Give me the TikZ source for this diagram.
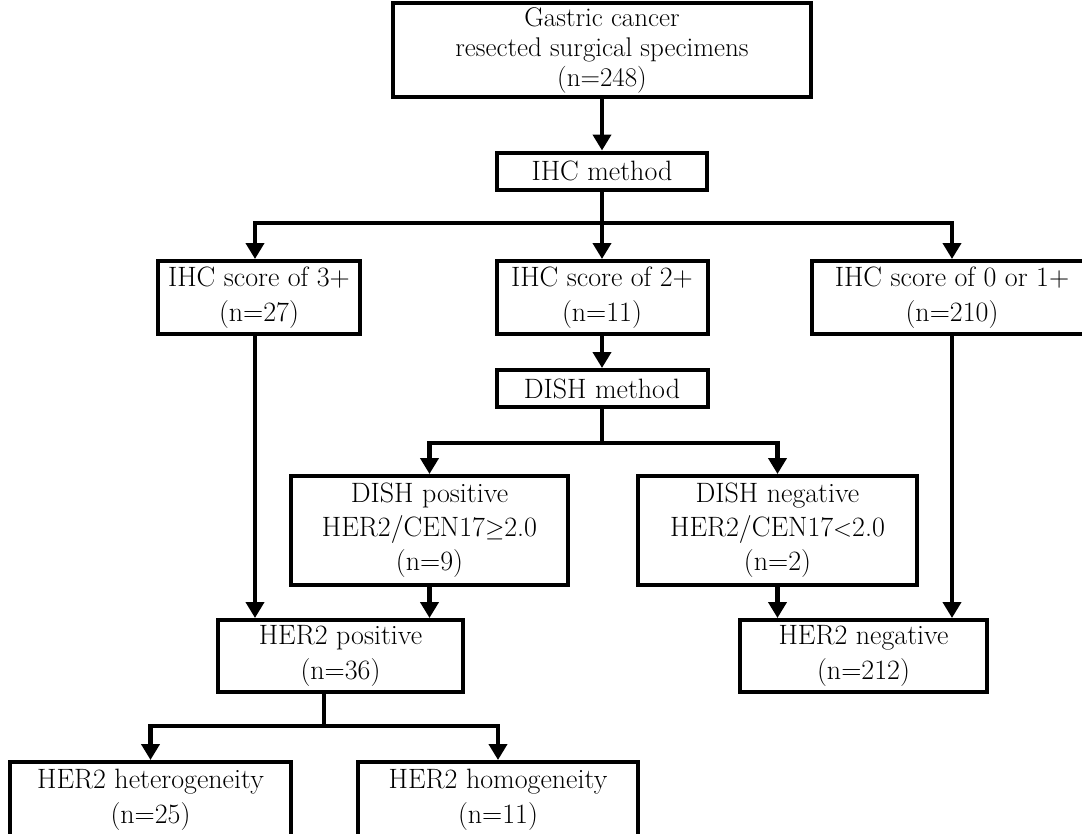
\documentclass[tikz,border=0pt]{standalone}
\usetikzlibrary{arrows.meta}
\begin{document}
\begin{tikzpicture}[x=1pt,y=-1pt,
  box/.style={draw,line width=4pt,inner sep=0pt,align=center,font=\fontsize{28}{35}\selectfont},
  conn/.style={line width=4.5pt,line join=miter},
  arr/.style={conn,-{Triangle[width=18pt,length=16pt]}}]
\useasboundingbox (0,0) rectangle (1082,833);
\clip (0,0) rectangle (1082,833);
% boxes
\node[box,minimum width=418pt,minimum height=94pt,font=\fontsize{27}{30}\selectfont] (top) at (602,50) {Gastric cancer\\resected surgical specimens\\(n=248)};
\node[box,minimum width=210pt,minimum height=37pt] (ihc) at (602,171) {IHC method};
\node[box,minimum width=202pt,minimum height=73pt] (s3) at (259,297.5) {IHC score of 3+\\(n=27)};
\node[box,minimum width=211pt,minimum height=73pt] (s2) at (602,297.5) {IHC score of 2+\\(n=11)};
\node[box,minimum width=280pt,minimum height=73pt] (s0) at (952,297.5) {IHC score of 0 or 1+\\(n=210)};
\node[box,minimum width=211pt,minimum height=37pt] (dm) at (602,388.5) {DISH method};
\node[box,minimum width=277pt,minimum height=109pt,font=\fontsize{28}{34}\selectfont] (dp) at (429.5,530.5) {DISH positive\\HER2/CEN17$\geq$2.0\\(n=9)};
\node[box,minimum width=279pt,minimum height=109pt,font=\fontsize{28}{34}\selectfont] (dn) at (777.5,530.5) {DISH negative\\HER2/CEN17$<$2.0\\(n=2)};
\node[box,minimum width=245pt,minimum height=72pt] (hp) at (340.5,656) {HER2 positive\\(n=36)};
\node[box,minimum width=247pt,minimum height=72pt] (hn) at (863.5,656) {HER2 negative\\(n=212)};
\node[box,minimum width=281pt,minimum height=76pt] (het) at (150.5,800) {HER2 heterogeneity\\(n=25)};
\node[box,minimum width=280pt,minimum height=76pt] (hom) at (498,800) {HER2 homogeneity\\(n=11)};
% bus coordinates
\coordinate (b1l) at (255,223);
\coordinate (b1r) at (952,223);
\coordinate (b2l) at (429.5,443);
\coordinate (b2r) at (777.5,443);
\coordinate (b3) at (324,726);
\coordinate (b3l) at (150.5,726);
\coordinate (b3r) at (498,726);
% connectors
\draw[arr] (top.south) -- (ihc.north);
\draw[arr] (ihc.south) -- (s2.north);
\draw[arr] (ihc.south) |- (b1l) -- (b1l |- s3.north);
\draw[arr] (ihc.south) |- (b1r) -- (b1r |- s0.north);
\draw[arr] (s2.south) -- (dm.north);
\draw[arr] (dm.south) |- (b2l) -- (b2l |- dp.north);
\draw[arr] (dm.south) |- (b2r) -- (b2r |- dn.north);
\draw[arr] (s3.south -| b1l) -- (b1l |- hp.north);
\draw[arr] (dp.south) -- (dp.south |- hp.north);
\draw[arr] (dn.south) -- (dn.south |- hn.north);
\draw[arr] (s0.south) -- (s0.south |- hn.north);
\draw[arr] (hp.south -| b3) |- (b3l) -- (b3l |- het.north);
\draw[arr] (hp.south -| b3) |- (b3r) -- (b3r |- hom.north);
\end{tikzpicture}
\end{document}
